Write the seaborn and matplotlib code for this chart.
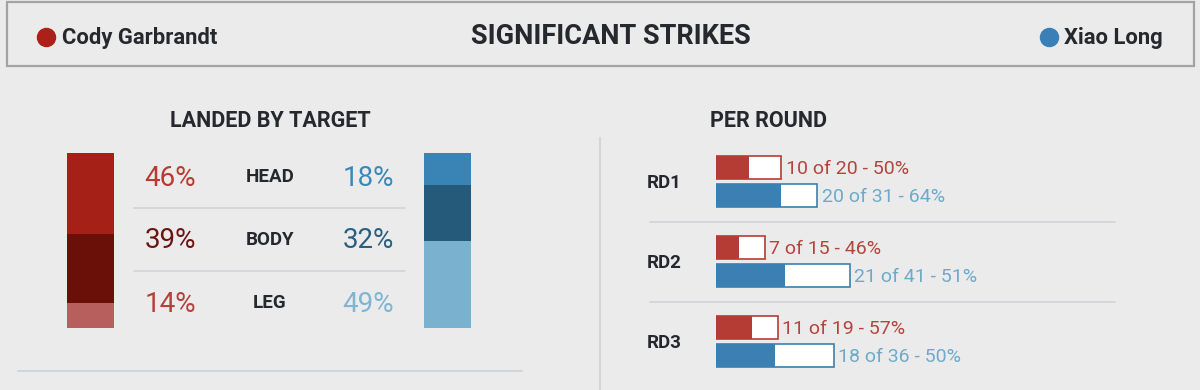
"""
Significant strikes card: landed-by-target stacks and per-round accuracy bars.
"""

import pandas as pd
import numpy as np
import matplotlib.pyplot as plt
import seaborn as sns

# ── Data ─────────────────────────────────────────────────────────────────────
FIGHTERS = ["Cody Garbrandt", "Xiao Long"]
TARGETS = ["HEAD", "BODY", "LEG"]
RED_TARGET_PCT = [46, 39, 14]
BLUE_TARGET_PCT = [18, 32, 49]

ROUNDS = ["RD1", "RD2", "RD3"]
RED_LANDED = [10, 7, 11]
RED_ATTEMPTED = [20, 15, 19]
RED_ACC = [50, 46, 57]
BLUE_LANDED = [20, 21, 18]
BLUE_ATTEMPTED = [31, 41, 36]
BLUE_ACC = [64, 51, 50]

# ── Style ────────────────────────────────────────────────────────────────────
BG = "#ebebeb"
DARK = "#25282d"
LINE = "#d3d5d9"
RED_SHADES = ["#a52117", "#6b0f09", "#b65f5c"]
BLUE_SHADES = ["#3a84b5", "#265a7a", "#79b1cf"]
RED_TEXT = ["#b83a30", "#6b1410", "#b5413a"]
BLUE_TEXT = ["#3a88b9", "#2a5f80", "#7fb5d3"]
RED_BAR, BLUE_BAR = "#b53c35", "#3a80b3"
RED_LBL, BLUE_LBL = "#b4453e", "#6eaacb"

sns.set_style("white")
plt.rcParams["font.family"] = ["Roboto", "DejaVu Sans"]

W, H = 1200, 390
fig = plt.figure(figsize=(W / 100, H / 100), dpi=100, facecolor=BG)


def px_axes(x0, y0, x1, y1):
    """Axes placed by pixel box (top-left origin)."""
    ax = fig.add_axes([x0 / W, 1 - y1 / H, (x1 - x0) / W, (y1 - y0) / H])
    ax.set_facecolor("none")
    return ax


# ── Frame / decorations ──────────────────────────────────────────────────────
bg = px_axes(0, 0, W, H)
bg.set_xlim(0, W)
bg.set_ylim(H, 0)
bg.axis("off")

bg.add_patch(plt.Rectangle((7, 2), 1187, 64, fill=False, ec="#a3a3a3", lw=1.6))
bg.plot(46, 37, "o", ms=13, color="#ad1f19")
bg.text(62, 38, FIGHTERS[0], fontsize=15.8, fontweight="bold", color=DARK,
        va="center", ha="left")
bg.plot(1049, 37, "o", ms=13, color="#3a7fb5")
bg.text(1064, 38, FIGHTERS[1], fontsize=15.8, fontweight="bold", color=DARK,
        va="center", ha="left")
bg.text(611, 37, "SIGNIFICANT STRIKES", fontsize=19.5, fontweight="bold",
        color=DARK, va="center", ha="center")

bg.text(270, 121, "LANDED BY TARGET", fontsize=15.5, fontweight="bold",
        color=DARK, va="center", ha="center")
bg.text(768, 121, "PER ROUND", fontsize=15.5, fontweight="bold",
        color=DARK, va="center", ha="center")

bg.plot([600, 600], [138, 390], color=LINE, lw=1.5)
bg.plot([18, 522], [371, 371], color=LINE, lw=1.5)
for y in (208, 271):
    bg.plot([134, 405], [y, y], color=LINE, lw=1.3)
for y in (222, 302):
    bg.plot([650, 1115], [y, y], color=LINE, lw=1.3)

# ── Landed by target: stacked bars ───────────────────────────────────────────
row_y = [177, 240, 303]
for i, t in enumerate(TARGETS):
    bg.text(270, row_y[i], t, fontsize=13.5, fontweight="bold", color=DARK,
            va="center", ha="center")
    bg.text(196, row_y[i] + 1, f"{RED_TARGET_PCT[i]}%", fontsize=20,
            color=RED_TEXT[i], va="center", ha="right")
    bg.text(394, row_y[i] + 1, f"{BLUE_TARGET_PCT[i]}%", fontsize=20,
            color=BLUE_TEXT[i], va="center", ha="right")


def stacked(ax, name, pcts, shades):
    cum = np.cumsum(pcts)
    # draw from the full stack down to the top segment so each overlays the last
    for k in range(len(pcts) - 1, -1, -1):
        sns.barplot(x=[name], y=[cum[k]], color=shades[k], width=1.0,
                    saturation=1, linewidth=0, ax=ax)
    ax.set_xlim(-0.5, 0.5)
    ax.set_ylim(sum(pcts), 0)
    ax.axis("off")


stacked(px_axes(67, 153, 114, 328), FIGHTERS[0], RED_TARGET_PCT, RED_SHADES)
stacked(px_axes(424, 153, 471, 328), FIGHTERS[1], BLUE_TARGET_PCT, BLUE_SHADES)

# ── Per round bars ───────────────────────────────────────────────────────────
rounds_df = pd.DataFrame({
    "round": ROUNDS * 2,
    "fighter": [FIGHTERS[0]] * 3 + [FIGHTERS[1]] * 3,
    "landed": RED_LANDED + BLUE_LANDED,
    "attempted": RED_ATTEMPTED + BLUE_ATTEMPTED,
    "acc": RED_ACC + BLUE_ACC,
})
pal = {FIGHTERS[0]: RED_BAR, FIGHTERS[1]: BLUE_BAR}

XMAX = 45
ax = px_axes(716, 141.5, 716 + XMAX * 3.27, 381.5)
sns.barplot(data=rounds_df, y="round", x="attempted", hue="fighter",
            palette=pal, orient="h", width=0.7, gap=0.18, saturation=1,
            errorbar=None, legend=False, ax=ax)
for p in ax.patches:
    fc = p.get_facecolor()
    p.set_facecolor("white")
    p.set_edgecolor(fc)
    p.set_linewidth(1.2)
sns.barplot(data=rounds_df, y="round", x="landed", hue="fighter",
            palette=pal, orient="h", width=0.7, gap=0.18, saturation=1,
            errorbar=None, legend=False, linewidth=0, ax=ax)

off = 0.7 / 4
for _, r in rounds_df.iterrows():
    i = ROUNDS.index(r["round"])
    red = r["fighter"] == FIGHTERS[0]
    ax.text(r["attempted"] + 1.3, i + (-off if red else off) + 0.02,
            f"{r['landed']} of {r['attempted']} - {r['acc']}%",
            fontsize=14, color=RED_LBL if red else BLUE_LBL,
            va="center", ha="left")

ax.set_xlim(0, XMAX)
ax.set_ylim(2.5, -0.5)
ax.xaxis.set_visible(False)
ax.set_ylabel("")
for s in ax.spines.values():
    s.set_visible(False)
ax.tick_params(axis="y", length=0, pad=25)
for lbl in ax.get_yticklabels():
    lbl.set_fontsize(13.5)
    lbl.set_fontweight("bold")
    lbl.set_color(DARK)

fig.savefig("out.png", dpi=100, facecolor=BG)
